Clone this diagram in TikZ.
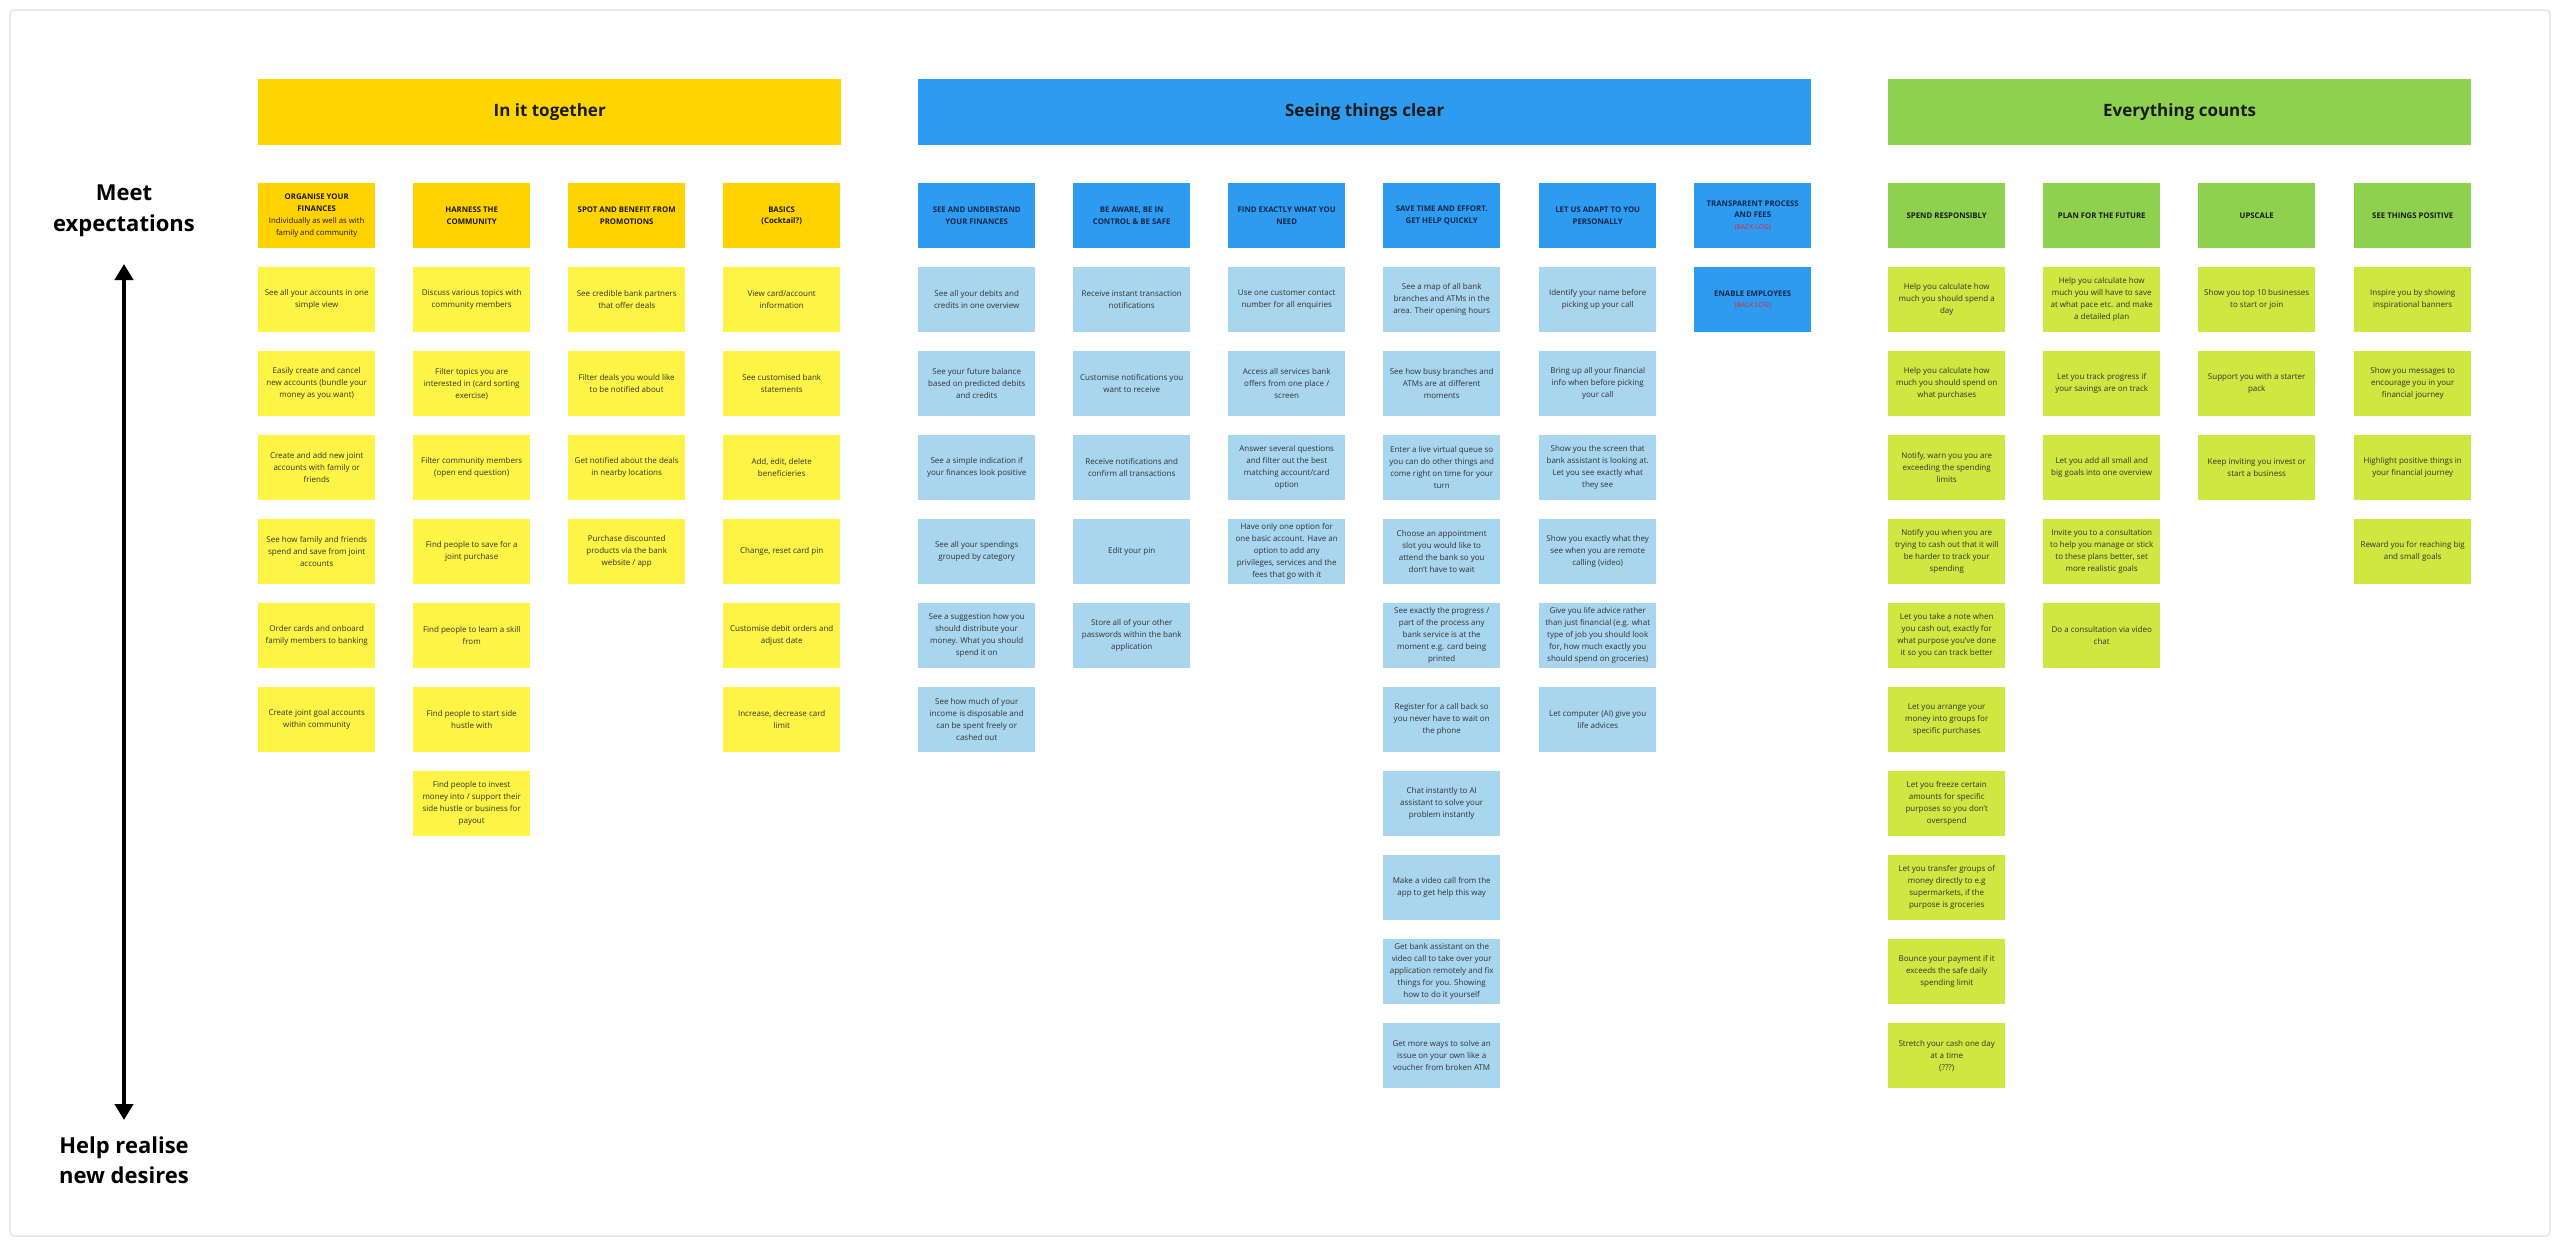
\documentclass[tikz,border=0pt]{standalone}
\usepackage{fontspec}
\setmainfont{Open Sans}
\usetikzlibrary{arrows.meta}
\definecolor{ybanner}{HTML}{FFD500}
\definecolor{yhead}{HTML}{FFD200}
\definecolor{ycard}{HTML}{FEF445}
\definecolor{bbanner}{HTML}{2D9BF0}
\definecolor{bcard}{HTML}{A8D6EF}
\definecolor{gbanner}{HTML}{8FD14F}
\definecolor{gcard}{HTML}{CEE741}
\definecolor{cardtext}{HTML}{333333}
\definecolor{headtext}{HTML}{1A1A1A}
\definecolor{bheadtext}{HTML}{14284A}
\definecolor{backlog}{HTML}{E8262B}
\definecolor{framecol}{HTML}{E4E4E4}
\newcommand{\stick}[5]{\node[#1] (#2) at (#3,{183+84*#4}) {#5};}
\newcommand{\bl}{\\\textcolor{backlog}{\mdseries\fontsize{6.8}{11}\selectfont (BACK LOG)}}
\begin{document}
\begin{tikzpicture}[x=1pt,y=-1pt,
  box/.style={anchor=north west, minimum width=117pt, minimum height=65pt, inner sep=0pt, align=center},
  card/.style={box, font=\fontsize{8}{12}\selectfont, text=cardtext},
  yc/.style={card, fill=ycard},
  bc/.style={card, fill=bcard},
  gc/.style={card, fill=gcard},
  head/.style={box, font=\bfseries\fontsize{7.8}{11.8}\selectfont, text=headtext},
  yh/.style={head, fill=yhead},
  bh/.style={head, fill=bbanner, text=bheadtext},
  gh/.style={head, fill=gbanner},
  banner/.style={anchor=north west, minimum height=66pt, inner sep=0pt, font=\bfseries\fontsize{17}{20}\selectfont, text=headtext},
  axislabel/.style={align=center, inner sep=0pt, font=\bfseries\fontsize{22}{30.5}\selectfont, text=black},
  axisarrow/.style={line width=4pt, {Triangle[width=18pt,length=16pt]}-{Triangle[width=18pt,length=16pt]}}
]
\useasboundingbox (0,0) rectangle (2560,1245);
\fill[white] (0,0) rectangle (2560,1245);
\draw[framecol, line width=1.5pt, rounded corners=4pt] (10,10) rectangle (2550,1236);

% axis
\node[axislabel] (meet) at (124,211) {Meet\\expectations};
\node[axislabel] (help) at (124,1160) {Help realise\\new desires};
\coordinate (axtop) at (124,264);
\coordinate (axbot) at (124,1120);
\draw[axisarrow] (axtop) -- (axbot);

% banners
\node[banner, fill=ybanner, minimum width=583pt] (bY) at (258,79) {In it together};
\node[banner, fill=bbanner, minimum width=893pt] (bB) at (918,79) {Seeing things clear};
\node[banner, fill=gbanner, minimum width=583pt] (bG) at (1888,79) {Everything counts};

% ---- In it together ----
\stick{yh}{y1h}{258}{0}{ORGANISE YOUR\\FINANCES\\\mdseries Individually as well as with\\\mdseries family and community}
\stick{yc}{y1c1}{258}{1}{See all your accounts in one\\simple view}
\stick{yc}{y1c2}{258}{2}{Easily create and cancel\\new accounts (bundle your\\money as you want)}
\stick{yc}{y1c3}{258}{3}{Create and add new joint\\accounts with family or\\friends}
\stick{yc}{y1c4}{258}{4}{See how family and friends\\spend and save from joint\\accounts}
\stick{yc}{y1c5}{258}{5}{Order cards and onboard\\family members to banking}
\stick{yc}{y1c6}{258}{6}{Create joint goal accounts\\within community}

\stick{yh}{y2h}{413}{0}{HARNESS THE\\COMMUNITY}
\stick{yc}{y2c1}{413}{1}{Discuss various topics with\\community members}
\stick{yc}{y2c2}{413}{2}{Filter topics you are\\interested in (card sorting\\exercise)}
\stick{yc}{y2c3}{413}{3}{Filter community members\\(open end question)}
\stick{yc}{y2c4}{413}{4}{Find people to save for a\\joint purchase}
\stick{yc}{y2c5}{413}{5}{Find people to learn a skill\\from}
\stick{yc}{y2c6}{413}{6}{Find people to start side\\hustle with}
\stick{yc}{y2c7}{413}{7}{Find people to invest\\money into / support their\\side hustle or business for\\payout}

\stick{yh}{y3h}{568}{0}{SPOT AND BENEFIT FROM\\PROMOTIONS}
\stick{yc}{y3c1}{568}{1}{See credible bank partners\\that offer deals}
\stick{yc}{y3c2}{568}{2}{Filter deals you would like\\to be notified about}
\stick{yc}{y3c3}{568}{3}{Get notified about the deals\\in nearby locations}
\stick{yc}{y3c4}{568}{4}{Purchase discounted\\products via the bank\\website / app}

\stick{yh}{y4h}{723}{0}{BASICS\\(Cocktail?)}
\stick{yc}{y4c1}{723}{1}{View card/account\\information}
\stick{yc}{y4c2}{723}{2}{See customised bank\\statements}
\stick{yc}{y4c3}{723}{3}{Add, edit, delete\\beneficieries}
\stick{yc}{y4c4}{723}{4}{Change, reset card pin}
\stick{yc}{y4c5}{723}{5}{Customise debit orders and\\adjust date}
\stick{yc}{y4c6}{723}{6}{Increase, decrease card\\limit}

% ---- Seeing things clear ----
\stick{bh}{b1h}{918}{0}{SEE AND UNDERSTAND\\YOUR FINANCES}
\stick{bc}{b1c1}{918}{1}{See all your debits and\\credits in one overview}
\stick{bc}{b1c2}{918}{2}{See your future balance\\based on predicted debits\\and credits}
\stick{bc}{b1c3}{918}{3}{See a simple indication if\\your finances look positive}
\stick{bc}{b1c4}{918}{4}{See all your spendings\\grouped by category}
\stick{bc}{b1c5}{918}{5}{See a suggestion how you\\should distribute your\\money. What you should\\spend it on}
\stick{bc}{b1c6}{918}{6}{See how much of your\\income is disposable and\\can be spent freely or\\cashed out}

\stick{bh}{b2h}{1073}{0}{BE AWARE, BE IN\\CONTROL \& BE SAFE}
\stick{bc}{b2c1}{1073}{1}{Receive instant transaction\\notifications}
\stick{bc}{b2c2}{1073}{2}{Customise notifications you\\want to receive}
\stick{bc}{b2c3}{1073}{3}{Receive notifications and\\confirm all transactions}
\stick{bc}{b2c4}{1073}{4}{Edit your pin}
\stick{bc}{b2c5}{1073}{5}{Store all of your other\\passwords within the bank\\application}

\stick{bh}{b3h}{1228}{0}{FIND EXACTLY WHAT YOU\\NEED}
\stick{bc}{b3c1}{1228}{1}{Use one customer contact\\number for all enquiries}
\stick{bc}{b3c2}{1228}{2}{Access all services bank\\offers from one place /\\screen}
\stick{bc}{b3c3}{1228}{3}{Answer several questions\\and filter out the best\\matching account/card\\option}
\stick{bc}{b3c4}{1228}{4}{Have only one option for\\one basic account. Have an\\option to add any\\privileges, services and the\\fees that go with it}

\stick{bh}{b4h}{1383}{0}{SAVE TIME AND EFFORT.\\GET HELP QUICKLY}
\stick{bc}{b4c1}{1383}{1}{See a map of all bank\\branches and ATMs in the\\area. Their opening hours}
\stick{bc}{b4c2}{1383}{2}{See how busy branches and\\ATMs are at different\\moments}
\stick{bc}{b4c3}{1383}{3}{Enter a live virtual queue so\\you can do other things and\\come right on time for your\\turn}
\stick{bc}{b4c4}{1383}{4}{Choose an appointment\\slot you would like to\\attend the bank so you\\don't have to wait}
\stick{bc}{b4c5}{1383}{5}{See exactly the progress /\\part of the process any\\bank service is at the\\moment e.g. card being\\printed}
\stick{bc}{b4c6}{1383}{6}{Register for a call back so\\you never have to wait on\\the phone}
\stick{bc}{b4c7}{1383}{7}{Chat instantly to AI\\assistant to solve your\\problem instantly}
\stick{bc}{b4c8}{1383}{8}{Make a video call from the\\app to get help this way}
\stick{bc}{b4c9}{1383}{9}{Get bank assistant on the\\video call to take over your\\application remotely and fix\\things for you. Showing\\how to do it yourself}
\stick{bc}{b4c10}{1383}{10}{Get more ways to solve an\\issue on your own like a\\voucher from broken ATM}

\stick{bh}{b5h}{1539}{0}{LET US ADAPT TO YOU\\PERSONALLY}
\stick{bc}{b5c1}{1539}{1}{Identify your name before\\picking up your call}
\stick{bc}{b5c2}{1539}{2}{Bring up all your financial\\info when before picking\\your call}
\stick{bc}{b5c3}{1539}{3}{Show you the screen that\\bank assistant is looking at.\\Let you see exactly what\\they see}
\stick{bc}{b5c4}{1539}{4}{Show you exactly what they\\see when you are remote\\calling (video)}
\stick{bc}{b5c5}{1539}{5}{Give you life advice rather\\than just financial (e.g. what\\type of job you should look\\for, how much exactly you\\should spend on groceries)}
\stick{bc}{b5c6}{1539}{6}{Let computer (AI) give you\\life advices}

\stick{bh}{b6h}{1694}{0}{TRANSPARENT PROCESS\\AND FEES\bl}
\stick{bh}{b6c1}{1694}{1}{ENABLE EMPLOYEES\bl}

% ---- Everything counts ----
\stick{gh}{g1h}{1888}{0}{SPEND RESPONSIBLY}
\stick{gc}{g1c1}{1888}{1}{Help you calculate how\\much you should spend a\\day}
\stick{gc}{g1c2}{1888}{2}{Help you calculate how\\much you should spend on\\what purchases}
\stick{gc}{g1c3}{1888}{3}{Notify, warn you you are\\exceeding the spending\\limits}
\stick{gc}{g1c4}{1888}{4}{Notify you when you are\\trying to cash out that it will\\be harder to track your\\spending}
\stick{gc}{g1c5}{1888}{5}{Let you take a note when\\you cash out, exactly for\\what purpose you've done\\it so you can track better}
\stick{gc}{g1c6}{1888}{6}{Let you arrange your\\money into groups for\\specific purchases}
\stick{gc}{g1c7}{1888}{7}{Let you freeze certain\\amounts for specific\\purposes so you don't\\overspend}
\stick{gc}{g1c8}{1888}{8}{Let you transfer groups of\\money directly to e.g\\supermarkets, if the\\purpose is groceries}
\stick{gc}{g1c9}{1888}{9}{Bounce your payment if it\\exceeds the safe daily\\spending limit}
\stick{gc}{g1c10}{1888}{10}{Stretch your cash one day\\at a time\\(???)}

\stick{gh}{g2h}{2043}{0}{PLAN FOR THE FUTURE}
\stick{gc}{g2c1}{2043}{1}{Help you calculate how\\much you will have to save\\at what pace etc. and make\\a detailed plan}
\stick{gc}{g2c2}{2043}{2}{Let you track progress if\\your savings are on track}
\stick{gc}{g2c3}{2043}{3}{Let you add all small and\\big goals into one overview}
\stick{gc}{g2c4}{2043}{4}{Invite you to a consultation\\to help you manage or stick\\to these plans better, set\\more realistic goals}
\stick{gc}{g2c5}{2043}{5}{Do a consultation via video\\chat}

\stick{gh}{g3h}{2198}{0}{UPSCALE}
\stick{gc}{g3c1}{2198}{1}{Show you top 10 businesses\\to start or join}
\stick{gc}{g3c2}{2198}{2}{Support you with a starter\\pack}
\stick{gc}{g3c3}{2198}{3}{Keep inviting you invest or\\start a business}

\stick{gh}{g4h}{2354}{0}{SEE THINGS POSITIVE}
\stick{gc}{g4c1}{2354}{1}{Inspire you by showing\\inspirational banners}
\stick{gc}{g4c2}{2354}{2}{Show you messages to\\encourage you in your\\financial journey}
\stick{gc}{g4c3}{2354}{3}{Highlight positive things in\\your financial journey}
\stick{gc}{g4c4}{2354}{4}{Reward you for reaching big\\and small goals}
\end{tikzpicture}
\end{document}
